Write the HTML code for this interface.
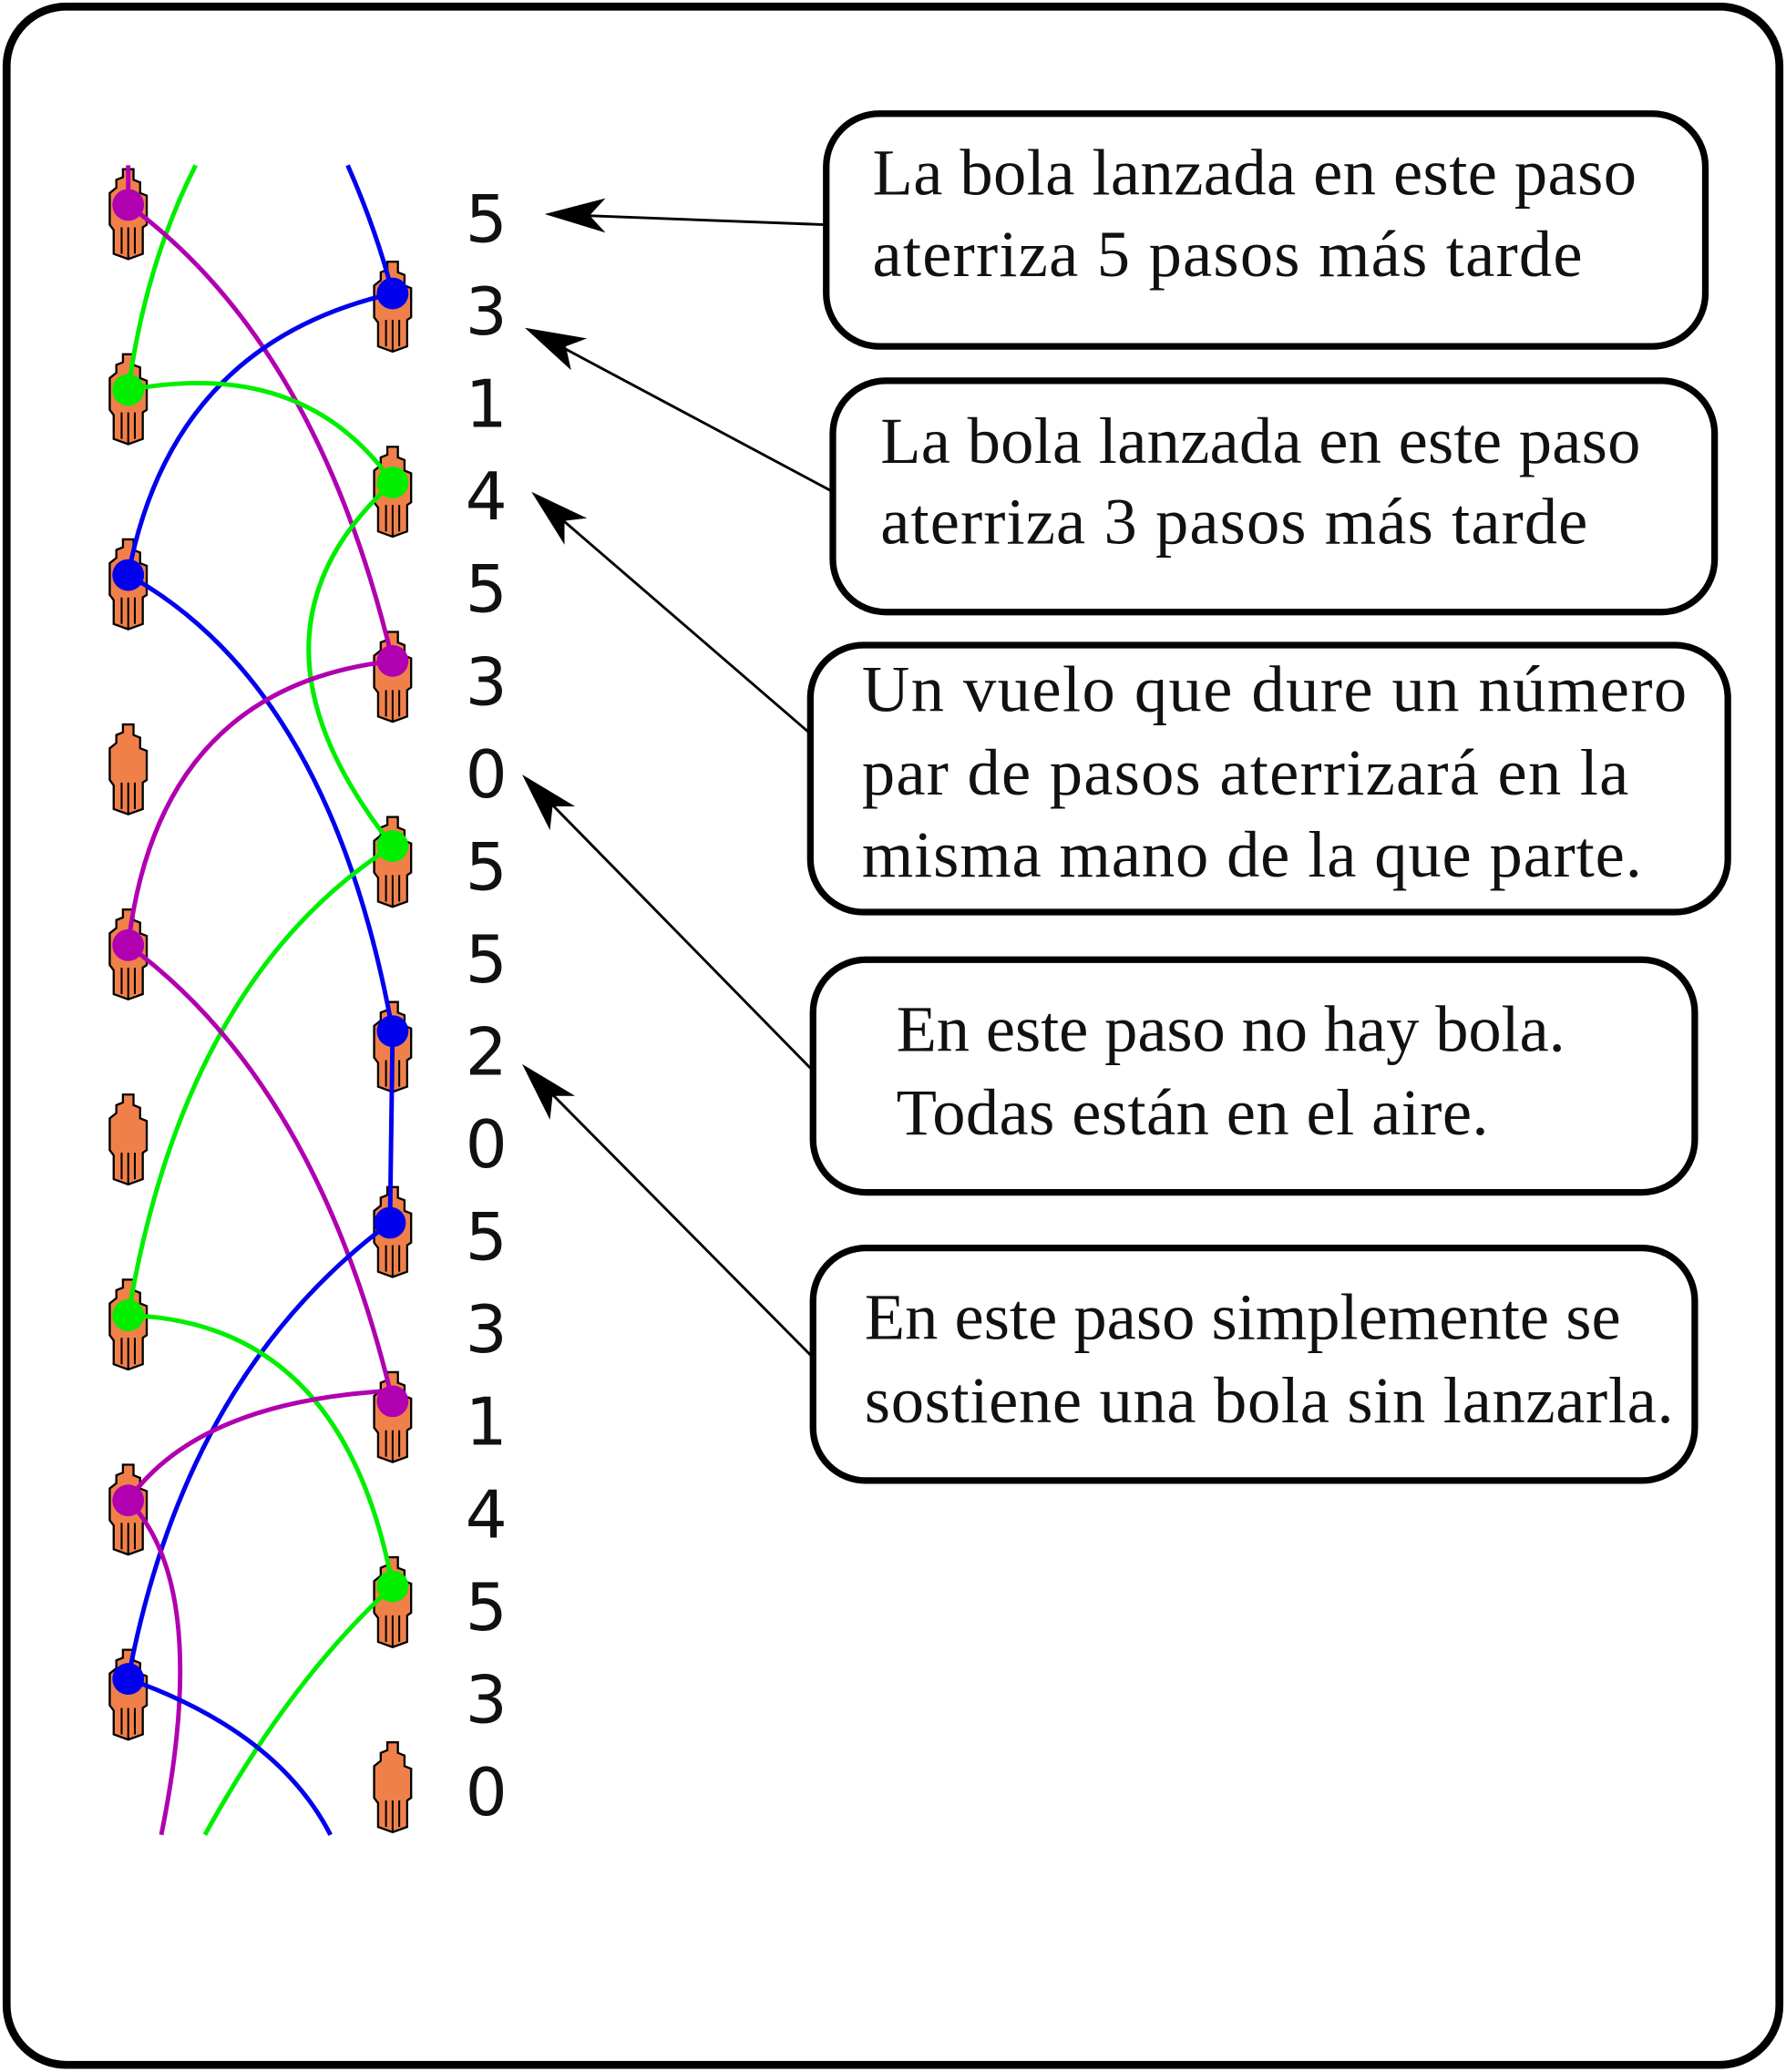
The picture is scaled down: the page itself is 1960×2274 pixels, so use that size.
<!DOCTYPE html>
<html><head><meta charset="utf-8"><style>
html,body{margin:0;padding:0;background:#fff}
svg{display:block}
.t{font-family:"Liberation Serif",serif;font-size:50px;fill:#111}
.n{font-family:"DejaVu Sans","Liberation Sans",sans-serif;font-size:50px;fill:#111}
.a{fill:none;stroke-width:3.4}
</style></head><body>
<svg width="1960" height="2274" viewBox="0 0 1351 1567.4" preserveAspectRatio="none" xmlns="http://www.w3.org/2000/svg">
<defs>
<g id="h">
<path d="M-4,-32 L4,-32 L4,-24 L9,-22 L9,-14 L14,-12 L14,10 L11,12 L11,32 L0,36 L-11,32 L-11,14 L-14,10 L-14,-14 L-9,-18 L-9,-24 L-4,-26 Z" fill="#f0804a" stroke="#000" stroke-width="1.6"/>
<path d="M-5,12 V32 M0,12 V36 M5,12 V32" stroke="#000" stroke-width="1.4"/>
</g>
</defs>
<rect x="5" y="5" width="1341" height="1557" rx="45" fill="#fff" stroke="#000" stroke-width="6"/>

<use href="#h" x="97" y="160"/><use href="#h" x="297" y="230"/>
<use href="#h" x="97" y="300"/><use href="#h" x="297" y="370"/>
<use href="#h" x="97" y="440"/><use href="#h" x="297" y="510"/>
<use href="#h" x="97" y="580"/><use href="#h" x="297" y="650"/>
<use href="#h" x="97" y="720"/><use href="#h" x="297" y="790"/>
<use href="#h" x="97" y="860"/><use href="#h" x="297" y="930"/>
<use href="#h" x="97" y="1000"/><use href="#h" x="297" y="1070"/>
<use href="#h" x="97" y="1140"/><use href="#h" x="297" y="1210"/>
<use href="#h" x="97" y="1280"/><use href="#h" x="297" y="1350"/>

<path class="a" stroke="#00ee00" d="M148,125 Q110,200 97,295"/>
<path class="a" stroke="#0000ee" d="M263,125 Q285,175 297,222"/>
<path class="a" stroke="#b000b0" d="M97,125 L97,155"/>
<path class="a" stroke="#b000b0" d="M97,155 Q240,260 297,500"/>
<path class="a" stroke="#0000ee" d="M297,222 Q130,260 97,435"/>
<path class="a" stroke="#00ee00" d="M97,295 Q230,270 297,365"/>
<path class="a" stroke="#00ee00" d="M297,365 Q170,480 297,640"/>
<path class="a" stroke="#0000ee" d="M97,435 Q250,520 297,780"/>
<path class="a" stroke="#b000b0" d="M297,500 Q120,520 97,715"/>
<path class="a" stroke="#00ee00" d="M297,640 Q140,740 97,995"/>
<path class="a" stroke="#b000b0" d="M97,715 Q240,820 297,1060"/>
<path class="a" stroke="#0000ee" d="M297,780 L295,925"/>
<path class="a" stroke="#0000ee" d="M295,925 Q140,1040 97,1270"/>
<path class="a" stroke="#00ee00" d="M97,995 Q260,1000 297,1200"/>
<path class="a" stroke="#b000b0" d="M297,1052 Q150,1060 97,1135"/>
<path class="a" stroke="#b000b0" d="M97,1135 Q160,1200 122,1388"/>
<path class="a" stroke="#00ee00" d="M297,1200 Q220,1270 155,1388"/>
<path class="a" stroke="#0000ee" d="M97,1270 Q210,1310 250,1388"/>

<circle cx="97" cy="155" r="12" fill="#b000b0"/>
<circle cx="297" cy="222" r="12" fill="#0000ee"/>
<circle cx="97" cy="295" r="12" fill="#00ee00"/>
<circle cx="297" cy="365" r="12" fill="#00ee00"/>
<circle cx="97" cy="435" r="12" fill="#0000ee"/>
<circle cx="297" cy="500" r="12" fill="#b000b0"/>
<circle cx="297" cy="640" r="12" fill="#00ee00"/>
<circle cx="97" cy="715" r="12" fill="#b000b0"/>
<circle cx="297" cy="780" r="12" fill="#0000ee"/>
<circle cx="295" cy="925" r="12" fill="#0000ee"/>
<circle cx="97" cy="995" r="12" fill="#00ee00"/>
<circle cx="297" cy="1060" r="12" fill="#b000b0"/>
<circle cx="97" cy="1135" r="12" fill="#b000b0"/>
<circle cx="297" cy="1200" r="12" fill="#00ee00"/>
<circle cx="97" cy="1270" r="12" fill="#0000ee"/>

<g class="n">
<text x="352" y="183">5</text><text x="352" y="253">3</text><text x="352" y="323">1</text>
<text x="352" y="393">4</text><text x="352" y="463">5</text><text x="352" y="533">3</text>
<text x="352" y="603">0</text><text x="352" y="673">5</text><text x="352" y="743">5</text>
<text x="352" y="813">2</text><text x="352" y="883">0</text><text x="352" y="953">5</text>
<text x="352" y="1023">3</text><text x="352" y="1093">1</text><text x="352" y="1163">4</text>
<text x="352" y="1233">5</text><text x="352" y="1303">3</text><text x="352" y="1373">0</text>
</g>

<g fill="#fff" stroke="#000" stroke-width="5">
<rect x="625" y="86" width="665" height="176" rx="40"/>
<rect x="630" y="288" width="667" height="175" rx="40"/>
<rect x="613" y="488" width="694" height="202" rx="40"/>
<rect x="615" y="726" width="667" height="176" rx="40"/>
<rect x="615" y="944" width="667" height="176" rx="40"/>
</g>
<g class="t">
<text x="660" y="147" textLength="578">La bola lanzada en este paso</text>
<text x="660" y="209" textLength="537">aterriza 5 pasos más tarde</text>
<text x="666" y="350" textLength="575">La bola lanzada en este paso</text>
<text x="666" y="411" textLength="535">aterriza 3 pasos más tarde</text>
<text x="652" y="538" textLength="624">Un vuelo que dure un número</text>
<text x="652" y="601" textLength="580">par de pasos aterrizará en la</text>
<text x="652" y="663" textLength="590">misma mano de la que parte.</text>
<text x="678" y="795" textLength="506">En este paso no hay bola.</text>
<text x="678" y="858" textLength="448">Todas están en el aire.</text>
<text x="654" y="1013" textLength="572">En este paso simplemente se</text>
<text x="654" y="1076" textLength="612">sostiene una bola sin lanzarla.</text>
</g>

<g stroke="#000" stroke-width="2" fill="none">
<line x1="625" y1="170" x2="440" y2="163"/>
<line x1="630" y1="372" x2="424" y2="262"/>
<line x1="613" y1="555" x2="424" y2="392"/>
<line x1="613" y1="808" x2="416" y2="607"/>
<line x1="615" y1="1027" x2="416" y2="826"/>
</g>
<g fill="#000">
<path d="M412,162 L458,150 L446,163 L458,176 Z"/>
<path d="M397,248 L444,256 L428,262 L432,280 Z"/>
<path d="M402,372 L444,392 L427,394 L427,412 Z"/>
<path d="M395,586 L435,610 L418,610 L416,628 Z"/>
<path d="M395,805 L435,829 L418,829 L416,847 Z"/>
</g>
</svg>
</body></html>
